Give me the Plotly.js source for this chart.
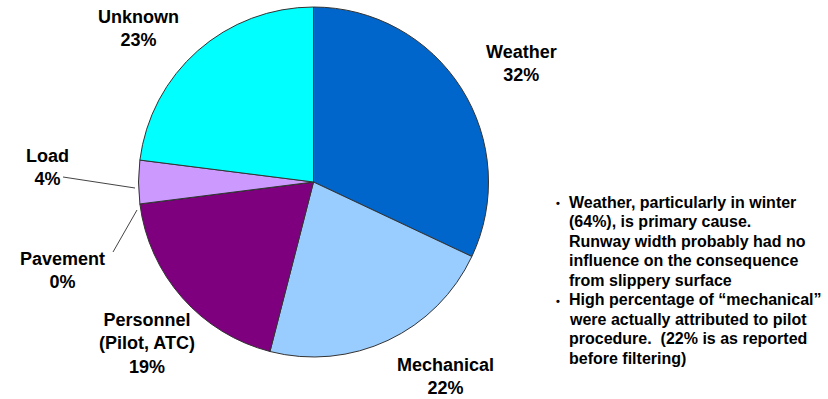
<!DOCTYPE html>
<html>
<head>
<meta charset="utf-8">
<script src="https://cdn.plot.ly/plotly-3.0.1.min.js"></script>
<style>html,body{margin:0;padding:0;background:#fff;}#chart{width:828px;height:399px;}</style>
</head>
<body>
<div id="chart"></div>
<script>
// ---- data ----
const categories = ["Weather", "Mechanical", "Personnel (Pilot, ATC)", "Pavement", "Load", "Unknown"];
const displayNames = ["Weather", "Mechanical", "Personnel<br>(Pilot, ATC)", "Pavement", "Load", "Unknown"];
const percents = [32, 22, 19, 0, 4, 23];
const sliceColors = ["#0066CC", "#99CCFF", "#7F007F", "#9999FF", "#CC99FF", "#00FFFF"];
const noteLines = [
  "Weather, particularly in winter",
  "(64%), is primary cause.",
  "Runway width probably had no",
  "influence on the consequence",
  "from slippery surface",
  "High percentage of \u201cmechanical\u201d",
  "were actually attributed to pilot",
  "procedure.  (22% is as reported",
  "before filtering)"
];
const bulletStarts = [0, 5];

// ---- layout helpers (pixel -> paper) ----
const W = 828, H = 399;
const px = x => x / W;
const py = y => 1 - y / H;

const cx = 313.5, cy = 182, r = 175;

const trace = {
  type: "pie",
  labels: categories,
  values: percents,
  sort: false,
  direction: "clockwise",
  rotation: 0,
  textinfo: "none",
  hoverinfo: "label+percent",
  marker: { colors: sliceColors, line: { color: "#333333", width: 1 } },
  domain: { x: [px(cx - r), px(cx + r)], y: [py(cy + r), py(cy - r)] },
  showlegend: false
};

// label positions in pixels (center of text block)
const labelPos = [
  [521, 63], [445, 376], [147, 343], [62, 270], [47, 167], [138, 29]
];
const labelFont = { family: "Liberation Sans, Arial, sans-serif", size: 18, color: "#000" };

const annotations = [];
categories.forEach((c, i) => {
  annotations.push({
    xref: "paper", yref: "paper",
    x: px(labelPos[i][0]), y: py(labelPos[i][1]),
    xanchor: "center", yanchor: "middle",
    text: "<b>" + displayNames[i] + "<br>" + percents[i] + "%</b>",
    showarrow: false, font: labelFont
  });
});

const noteFont = { family: "Liberation Sans, Arial, sans-serif", size: 16, color: "#000" };
const noteY0 = 202, noteStep = 19.5;
noteLines.forEach((t, i) => {
  annotations.push({
    xref: "paper", yref: "paper",
    x: px(567), y: py(noteY0 + i * noteStep),
    xanchor: "left", yanchor: "middle",
    text: "<b>" + t + "</b>",
    showarrow: false, font: noteFont
  });
});
bulletStarts.forEach(i => {
  annotations.push({
    xref: "paper", yref: "paper",
    x: px(558), y: py(noteY0 + i * noteStep + 1),
    xanchor: "center", yanchor: "middle",
    text: "<b>\u2022</b>",
    showarrow: false, font: { family: "Liberation Sans, Arial, sans-serif", size: 11, color: "#000" }
  });
});

const leaderLine = { color: "#444444", width: 1 };
const shapes = [
  { type: "line", xref: "paper", yref: "paper", x0: px(63), y0: py(177), x1: px(135), y1: py(188), line: leaderLine },
  { type: "line", xref: "paper", yref: "paper", x0: px(113), y0: py(252), x1: px(137), y1: py(210), line: leaderLine }
];

const layout = {
  width: W, height: H,
  margin: { l: 0, r: 0, t: 0, b: 0 },
  paper_bgcolor: "#ffffff",
  plot_bgcolor: "#ffffff",
  annotations: annotations,
  shapes: shapes,
  showlegend: false
};

Plotly.newPlot("chart", [trace], layout, { displayModeBar: false, staticPlot: true });
</script>
</body>
</html>
